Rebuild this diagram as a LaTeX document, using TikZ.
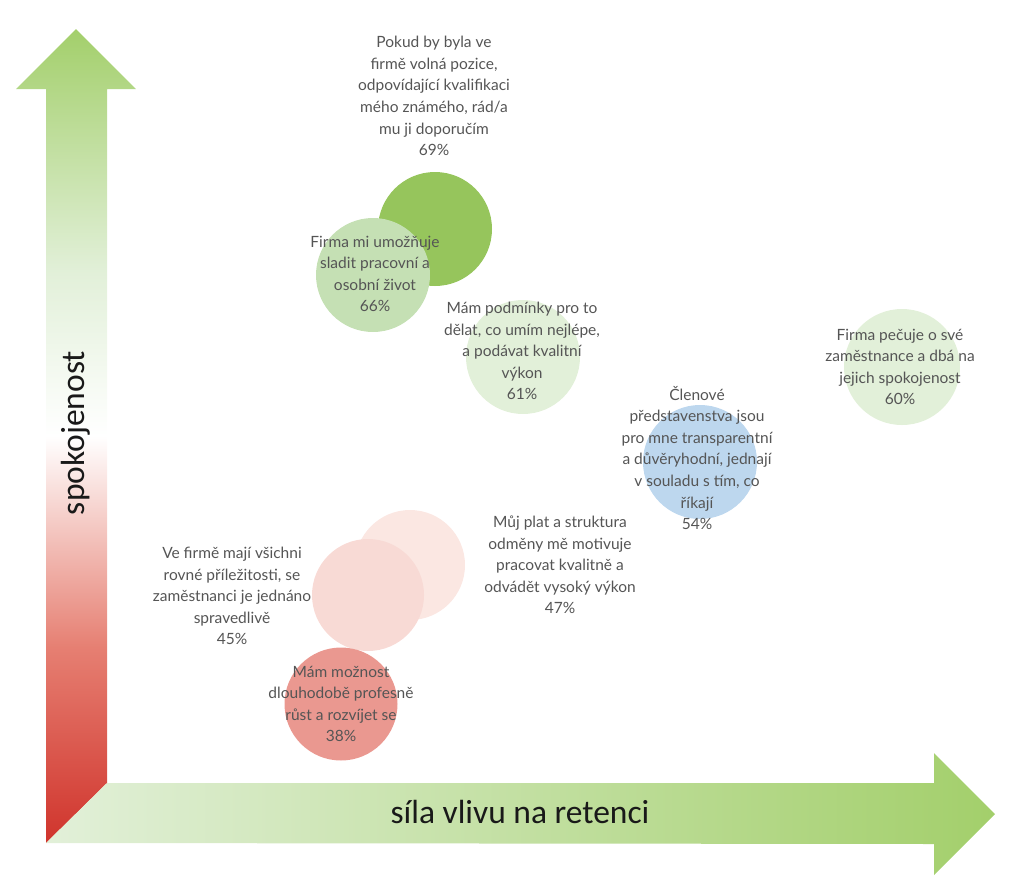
\documentclass[tikz,border=0pt]{standalone}
\usepackage{fontspec}
\setmainfont{Lato}
\newfontfamily\axisfont{Carlito}
\usetikzlibrary{positioning}
\definecolor{txtgray}{HTML}{555555}
\definecolor{axred}{HTML}{D0342C}
\definecolor{axsalmon}{HTML}{E67F72}
\definecolor{axpale}{HTML}{E2F0D9}
\definecolor{axgreen}{HTML}{A3CF6B}
\definecolor{bdark}{HTML}{96C55C}
\definecolor{bgreen}{HTML}{C5E0B4}
\definecolor{bpale}{HTML}{E2F0D9}
\definecolor{bblue}{HTML}{BDD7EE}
\definecolor{brose}{HTML}{FBE7E2}
\definecolor{bpink}{HTML}{F8DAD5}
\definecolor{bsalmon}{HTML}{EA9890}
\pgfdeclareverticalshading{spokshade}{100bp}{color(0bp)=(axred); color(25bp)=(axred);
  color(37bp)=(axsalmon); color(50bp)=(white); color(60bp)=(axpale);
  color(75bp)=(axgreen); color(100bp)=(axgreen)}
\pgfdeclarehorizontalshading{retshade}{100bp}{color(0bp)=(axpale); color(25bp)=(axpale);
  color(75bp)=(axgreen); color(100bp)=(axgreen)}
\tikzset{bubble/.style={circle,minimum size=114pt,inner sep=0pt},
	bubbletext/.style={align=center,text=txtgray,inner sep=0pt,
		font=\fontsize{15.5}{21.6}\selectfont},
	axislabel/.style={text=black!90,font=\axisfont\fontsize{33.5}{33.5}\selectfont}}
\begin{document}
\begin{tikzpicture}[x=1pt,y=-1pt]
	\useasboundingbox (0,0) rectangle (1015,892);
	% osy
	\shade[shading=spokshade] (76,29) -- (136,89) -- (107,89) -- (107,783)
		-- (46,843) -- (46,89) -- (16,89) -- cycle;
	\shade[shading=retshade] (46,843) -- (107,783) -- (934,783) -- (934,753)
		-- (995,814) -- (934,875) -- (934,844) -- cycle;
	\node[axislabel,rotate=90] (spok) at (76,433) {spokojenost};
	\node[axislabel] (sila) at (520,812) {síla vlivu na retenci};
	% bubliny
	\node[bubble,fill=bdark] (b69) at (435,229) {};
	\node[bubble,fill=bgreen] (b66) at (373,275) {};
	\node[bubble,fill=bpale] (b61) at (523,357) {};
	\node[bubble,fill=bpale,minimum size=116pt] (b60) at (902,367) {};
	\node[bubble,fill=bblue] (b54) at (700,462) {};
	\node[bubble,fill=brose,minimum size=110pt] (b47) at (410,565) {};
	\node[bubble,fill=bpink,minimum size=112pt] (b45) at (368,595) {};
	\node[bubble,fill=bsalmon,minimum size=113pt] (b38) at (341,704) {};
	% popisky
	\node[bubbletext] (t69) at (434,96) {Pokud by byla ve\\firmě volná pozice,\\odpovídající kvalifikaci\\mého známého, rád/a\\mu ji doporučím\\69\%};
	\node[bubbletext] (t66) at (375,274) {Firma mi umožňuje\\sladit pracovní a\\osobní život\\66\%};
	\node[bubbletext] (t61) at (522,351) {Mám podmínky pro to\\dělat, co umím nejlépe,\\a podávat kvalitní\\výkon\\61\%};
	\node[bubbletext] (t60) at (900,367) {Firma pečuje o své\\zaměstnance a dbá na\\jejich spokojenost\\60\%};
	\node[bubbletext] (t54) at (697,458) {Členové\\představenstva jsou\\pro mne transparentní\\a důvěryhodní, jednají\\v souladu s tím, co\\říkají\\54\%};
	\node[bubbletext] (t47) at (560,565) {Můj plat a struktura\\odměny mě motivuje\\pracovat kvalitně a\\odvádět vysoký výkon\\47\%};
	\node[bubbletext] (t45) at (232,596) {Ve firmě mají všichni\\rovné příležitosti, se\\zaměstnanci je jednáno\\spravedlivě\\45\%};
	\node[bubbletext] (t38) at (341,704) {Mám možnost\\dlouhodobě profesně\\růst a rozvíjet se\\38\%};
\end{tikzpicture}
\end{document}
